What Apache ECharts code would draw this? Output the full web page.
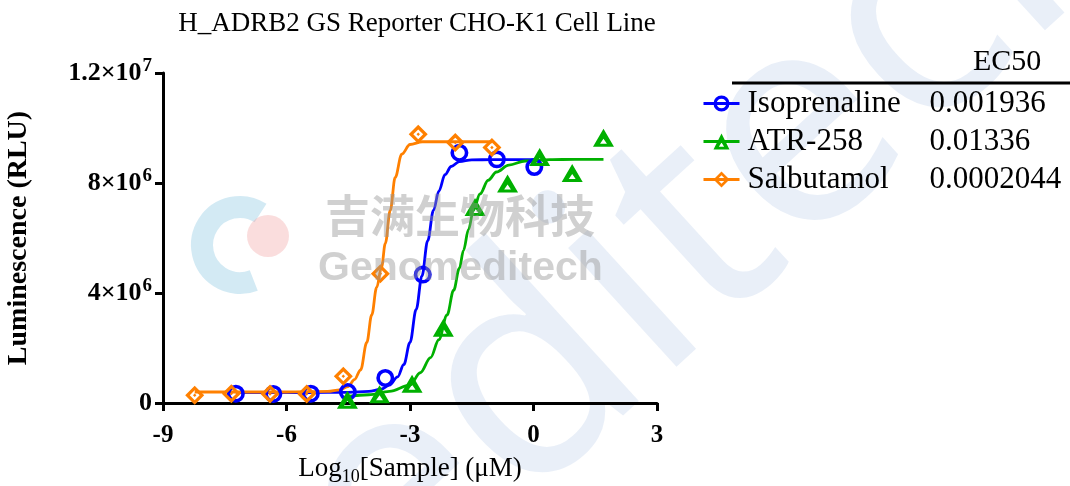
<!DOCTYPE html>
<html><head><meta charset="utf-8">
<script src="https://cdn.jsdelivr.net/npm/echarts@6/dist/echarts.min.js"></script>
<style>html,body{margin:0;padding:0;background:#fff}#c{width:1070px;height:486px}</style>
</head><body><div id="c"></div>
<script>
// ---------- data ----------
const chartTitle = 'H_ADRB2 GS Reporter CHO-K1 Cell Line';
const seriesNames = ['Isoprenaline', 'ATR-258', 'Salbutamol'];
const ec50Values = ['0.001936', '0.01336', '0.0002044'];
const seriesColors = ['#0000FF', '#00B000', '#FF8000'];

// measured points: log10[Sample] (uM) vs luminescence (RLU)
const isoX = [-7.23, -6.32, -5.41, -4.51, -3.60, -2.69, -1.80, -0.89, 0.02];
const isoY = [340000, 330000, 340000, 400000, 910000, 4670000, 9100000, 8860000, 8580000];
const atrX = [-4.52, -3.74, -2.95, -2.19, -1.42, -0.63, 0.15, 0.94, 1.70];
const atrY = [120000, 320000, 700000, 2740000, 7130000, 7980000, 8950000, 8360000, 9650000];
const salX = [-8.23, -7.34, -6.40, -5.51, -4.62, -3.72, -2.80, -1.90, -1.01];
const salY = [280000, 340000, 330000, 330000, 970000, 4700000, 9770000, 9470000, 9290000];

// fitted curves
const isoCurveX = [-7.23, -5.5, -4.5, -4.0, -3.7, -3.5, -3.3, -3.15, -3.0, -2.85, -2.71, -2.57, -2.43, -2.3, -2.15, -2.0, -1.8, -1.5, -1.0, 0.02];
const isoCurveY = [380000, 380000, 390000, 420000, 500000, 650000, 950000, 1400000, 2200000, 3400000, 4620000, 5900000, 7000000, 7700000, 8300000, 8600000, 8780000, 8840000, 8850000, 8850000];
const atrCurveX = [-4.52, -4.0, -3.5, -3.0, -2.75, -2.5, -2.3, -2.1, -1.94, -1.8, -1.7, -1.58, -1.46, -1.3, -1.1, -0.9, -0.6, -0.2, 0.4, 1.0, 1.7];
const atrCurveY = [240000, 300000, 420000, 650000, 1100000, 1650000, 2300000, 3200000, 4100000, 4900000, 5550000, 6300000, 7000000, 7600000, 8100000, 8400000, 8650000, 8800000, 8850000, 8860000, 8860000];
const salCurveX = [-8.23, -6.0, -5.0, -4.7, -4.5, -4.35, -4.2, -4.05, -3.93, -3.81, -3.69, -3.6, -3.48, -3.36, -3.2, -3.0, -2.7, -2.0, -1.0];
const salCurveY = [400000, 400000, 420000, 480000, 600000, 850000, 1200000, 2200000, 3200000, 4200000, 4950000, 5800000, 7000000, 8200000, 9050000, 9400000, 9500000, 9500000, 9500000];

// axis tick labels
const xTickValues = [-9, -6, -3, 0, 3];
const yTickLabels = { 0: ['0', ''], 4000000: ['4×10', '6'], 8000000: ['8×10', '6'], 12000000: ['1.2×10', '7'] };
const xAxisTitle = ['Log', '10', '[Sample] (μM)'];
const yAxisTitle = 'Luminescence (RLU)';
const watermarkCN = '吉满生物科技';
const watermarkEN = 'Genomeditech';

// ---------- styling ----------
const SERIF = '"Liberation Serif", "Times New Roman", serif';
const symCircle = 'path://M10,0 A10,10 0 1,1 -10,0 A10,10 0 1,1 10,0 Z M6,0 A6,6 0 1,0 -6,0 A6,6 0 1,0 6,0 Z';
const symTriangle = 'path://M0,-10 L11,8 L-11,8 Z M0,0 L-3.6,5 L3.6,5 Z';
const symDiamond = 'path://M0,-10 L10,0 L0,10 L-10,0 Z M0,-5.2 L-5.2,0 L0,5.2 L5.2,0 Z M0,-1.8 L1.8,0 L0,1.8 L-1.8,0 Z';
const symbols = [symCircle, symTriangle, symDiamond];
const symSizes = [18, [21, 18], 19];

const pts = [[isoX, isoY], [atrX, atrY], [salX, salY]];
const curves = [[isoCurveX, isoCurveY], [atrCurveX, atrCurveY], [salCurveX, salCurveY]];
const zip = (a, b) => a.map((v, i) => [v, b[i]]);

const series = [];
seriesNames.forEach((n, i) => {
  series.push({
    name: n, type: 'line', data: zip(curves[i][0], curves[i][1]),
    smooth: 0.35, smoothMonotone: 'x', showSymbol: false, symbol: symbols[i], symbolSize: 16,
    lineStyle: { color: seriesColors[i], width: 2.8 }, itemStyle: { color: seriesColors[i] },
    silent: true, animation: false, z: 3
  });
});
seriesNames.forEach((n, i) => {
  series.push({
    name: n, type: 'scatter', data: zip(pts[i][0], pts[i][1]),
    symbol: symbols[i], symbolSize: symSizes[i],
    itemStyle: { color: seriesColors[i], opacity: 1 }, silent: true, animation: false, z: 4
  });
});

const chart = echarts.init(document.getElementById('c'), null, { renderer: 'canvas' });
chart.setOption({
  backgroundColor: '#fff',
  animation: false,
  title: {
    text: chartTitle, left: 412, top: 5, textAlign: 'center',
    textStyle: { fontFamily: SERIF, fontWeight: 'normal', fontSize: 27, color: '#000' }
  },
  grid: { left: 163, right: 413, top: 73, bottom: 83, outerBoundsMode: 'none', containLabel: false },
  xAxis: {
    type: 'value', min: -9, max: 3, interval: 3,
    axisLine: { show: true, onZero: false, lineStyle: { color: '#000', width: 3 } },
    axisTick: { show: true, length: 8, lineStyle: { color: '#000', width: 3 } },
    splitLine: { show: false },
    axisLabel: {
      margin: 20, color: '#000', fontFamily: SERIF, fontWeight: 'bold', fontSize: 25,
      formatter: v => (xTickValues.indexOf(v) >= 0 ? String(v) : '')
    },
    name: '{m|' + xAxisTitle[0] + '}{s|' + xAxisTitle[1] + '}{m|' + xAxisTitle[2] + '}',
    nameLocation: 'middle', nameGap: 52,
    nameTextStyle: {
      rich: {
        m: { fontFamily: SERIF, fontSize: 27, color: '#000', lineHeight: 28, verticalAlign: 'top' },
        s: { fontFamily: SERIF, fontSize: 18, color: '#000', lineHeight: 19, padding: [13, 0, 0, 0], verticalAlign: 'top' }
      }
    }
  },
  yAxis: {
    type: 'value', min: 0, max: 12000000, interval: 4000000,
    axisLine: { show: true, onZero: false, lineStyle: { color: '#000', width: 3 } },
    axisTick: { show: true, length: 8, lineStyle: { color: '#000', width: 3 } },
    splitLine: { show: false },
    axisLabel: {
      margin: 11,
      formatter: v => { const t = yTickLabels[v]; if (!t) return ''; return t[1] ? '{m|' + t[0] + '}{p|' + t[1] + '}' : '{m|' + t[0] + '}'; },
      rich: {
        m: { fontFamily: SERIF, fontWeight: 'bold', fontSize: 26, color: '#000', lineHeight: 26, verticalAlign: 'bottom' },
        p: { fontFamily: SERIF, fontWeight: 'bold', fontSize: 19, color: '#000', lineHeight: 19, padding: [0, 0, 10, 1], verticalAlign: 'bottom' }
      }
    },
    name: yAxisTitle, nameLocation: 'middle', nameGap: 130,
    nameTextStyle: { fontFamily: SERIF, fontWeight: 'bold', fontSize: 28, color: '#000' }
  },
  legend: {
    orient: 'vertical', left: 697, top: 83, itemWidth: 36, itemHeight: 20, itemGap: 7,
    selectedMode: false, data: seriesNames,
    itemStyle: { borderWidth: 0 }, lineStyle: { width: 3 },
    formatter: name => '{n|' + name + '}{v|' + ec50Values[seriesNames.indexOf(name)] + '}',
    textStyle: {
      color: '#000', fontFamily: SERIF, fontSize: 31,
      rich: {
        n: { fontFamily: SERIF, fontSize: 31, lineHeight: 34, color: '#000', width: 182, padding: [0, 0, 0, 3] },
        v: { fontFamily: SERIF, fontSize: 31, lineHeight: 34, color: '#000' }
      }
    }
  },
  graphic: [
    { type: 'text', left: 973, top: 47, style: { text: 'EC50', font: '30px ' + SERIF, fill: '#000' } },
    { type: 'line', shape: { x1: 732, y1: 83, x2: 1070, y2: 83 }, style: { stroke: '#000', lineWidth: 3 } },
    // watermark logo (approximate)
    { type: 'arc', shape: { cx: 240, cy: 245, r: 38, startAngle: -1.0, endAngle: 1.2, clockwise: false },
      style: { stroke: 'rgba(150,205,228,0.42)', lineWidth: 22, fill: null }, z: 50, silent: true },
    { type: 'circle', shape: { cx: 268, cy: 236, r: 21 }, style: { fill: 'rgba(240,150,150,0.32)' }, z: 51, silent: true },
    { type: 'text', x: 325, y: 193, style: { text: watermarkCN, font: 'bold 45px "Noto Sans CJK SC", sans-serif', fill: 'rgba(150,150,150,0.45)' }, z: 60, silent: true },
    { type: 'text', x: 318, y: 248, style: { text: watermarkEN, font: 'bold 41px "Liberation Sans", Arial, sans-serif', fill: 'rgba(150,150,150,0.45)' }, z: 60, silent: true },
    { type: 'text', x: 440, y: 670, rotation: 0.74,
      style: { text: 'editech', font: '300px "Noto Sans", sans-serif', fill: 'rgba(200,214,238,0.4)', textVerticalAlign: 'bottom' }, z: -1, silent: true }
  ],
  series: series
});
</script>
</body></html>
